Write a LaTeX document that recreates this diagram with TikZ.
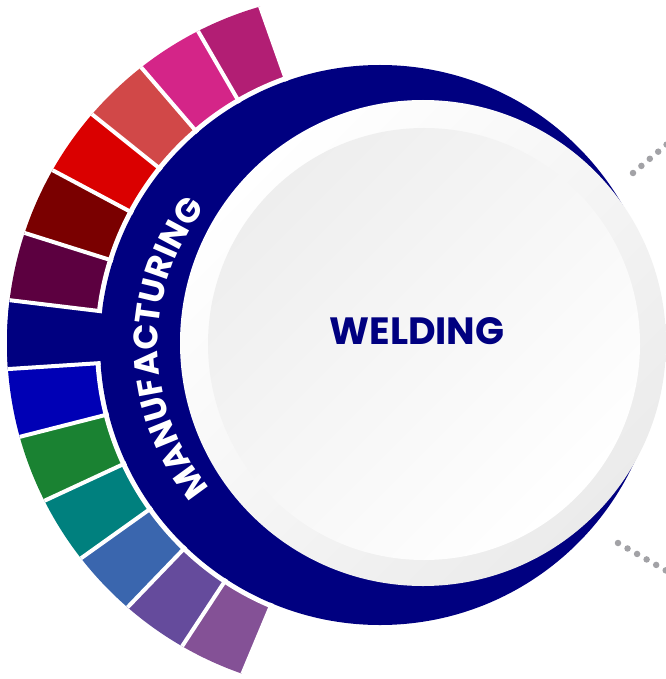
\documentclass[tikz,border=0pt]{standalone}
\usepackage{fontspec}
\setmainfont{Poppins}
\usepackage{tikz}
\usetikzlibrary{calc, decorations.text}
\definecolor{navyblue}{HTML}{000080}
\definecolor{segA}{HTML}{B21E74}
\definecolor{segB}{HTML}{D42588}
\definecolor{segC}{HTML}{D14848}
\definecolor{segD}{HTML}{DA0000}
\definecolor{segE}{HTML}{7A0000}
\definecolor{segF}{HTML}{5C0040}
\definecolor{segG}{HTML}{000080}
\definecolor{segH}{HTML}{0000B5}
\definecolor{segI}{HTML}{1A8232}
\definecolor{segJ}{HTML}{00807E}
\definecolor{segK}{HTML}{3A66AE}
\definecolor{segL}{HTML}{654B9C}
\definecolor{segM}{HTML}{845196}
\definecolor{ringgray}{HTML}{EBEBEB}
\definecolor{facegray}{HTML}{EEEEEE}
\definecolor{dotgray}{HTML}{A2A2A6}
\tikzstyle{separator} = [white, line width=4pt]
\tikzstyle{dotline}   = [line width=6.5pt, line cap=round, dash pattern=on 0pt off 11pt, color=dotgray]
\tikzstyle{title}     = [text=navyblue, font=\fontsize{38}{40}\selectfont\bfseries]
\newcommand{\arcfont}{\color{white}\bfseries\fontsize{34}{34}\selectfont}
\tikzset{every node/.style={align=center}}

\begin{document}
\begin{tikzpicture}[x=1pt, y=-1pt]
    \useasboundingbox (0,0) rectangle (665,679);
    \coordinate (hub)  at (380,345);
    \coordinate (rim)  at (357,343);
    \coordinate (disc) at (423,343);
    \coordinate (face) at (424,344);

    \begin{scope}
        \clip (rim) circle (350);
        \foreach \c [count=\i from 0] in {segA,segB,segC,segD,segE,segF,segG,segH,segI,segJ,segK,segL,segM} {
            \pgfmathsetmacro{\a}{-109.5-10.6*\i}
            \pgfmathsetmacro{\b}{\a-10.6}
            \fill[\c] (hub) -- ($(hub)+(\a:500)$) -- ($(hub)+(\b:500)$) -- cycle;
        }
    \end{scope}
    \fill[white]    (hub) circle (285);
    \fill[navyblue] (hub) circle (280);
    \begin{scope}
        \clip (rim) circle (350);
        \fill[navyblue] (hub) -- ($(hub)+(-173.1:500)$) -- ($(hub)+(-183.7:500)$) -- cycle;
        \foreach \i in {0,...,13} {
            \pgfmathsetmacro{\a}{-109.5-10.6*\i}
            \draw[separator] ($(hub)+(\a:280)$) -- ($(hub)+(\a:500)$);
        }
    \end{scope}

    \shade[top color=white, bottom color=ringgray, shading angle=45] (disc) circle (243);
    \shade[top color=facegray, bottom color=white, shading angle=45] (face) circle (216);

    \node (weld) at (417,331) [title] {WELDING};
    \path[decorate, decoration={text along path, text align=center, text={|\arcfont|MANUFACTURING}}]
        ([shift={(hub)}]221:222pt) arc[start angle=221, end angle=141, radius=222pt];

    \coordinate (upA) at (633,173);
    \coordinate (upB) at (672,140);
    \coordinate (loA) at (618,543);
    \coordinate (loB) at (672,574);
    \draw[dotline] (upA) -- (upB);
    \draw[dotline] (loA) -- (loB);
\end{tikzpicture}
\end{document}
